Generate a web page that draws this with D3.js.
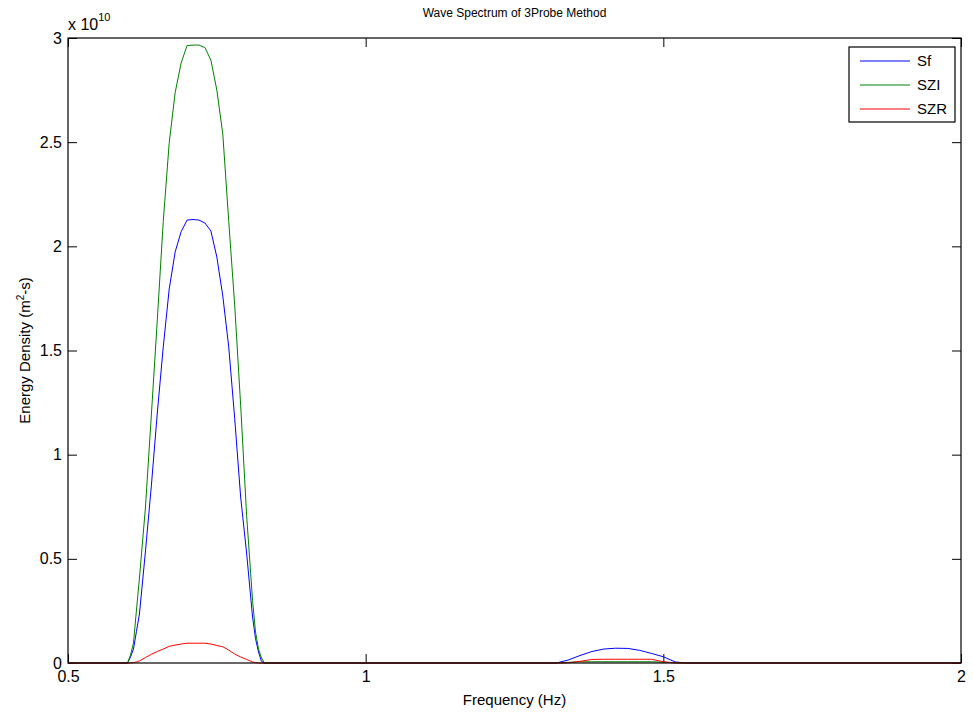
<!DOCTYPE html>
<html>
<head>
<meta charset="utf-8">
<script src="https://cdn.jsdelivr.net/npm/d3@7"></script>
<style>
  body { margin: 0; background: #fff; }
  text { font-family: "Liberation Sans", Arial, sans-serif; fill: #000; }
</style>
</head>
<body>
<div id="chart"></div>
<script>
// frequency (Hz)
const freq = [0.50, 0.60, 0.605, 0.61, 0.615, 0.62, 0.63, 0.64, 0.65, 0.66, 0.67, 0.68, 0.69, 0.70, 0.71,
  0.72, 0.73, 0.74, 0.75, 0.76, 0.77, 0.78, 0.79, 0.80, 0.81, 0.815, 0.82, 0.825, 0.83, 0.84,
  1.32, 1.34, 1.36, 1.38, 1.40, 1.42, 1.44, 1.46, 1.48, 1.50, 1.52, 1.54, 2.00];

// energy density, in units of 1e10
const Sf = [0, 0, 0.029, 0.067, 0.152, 0.235, 0.533, 0.85, 1.20, 1.517, 1.795, 1.973, 2.07, 2.126, 2.129,
  2.126, 2.112, 2.074, 1.949, 1.762, 1.517, 1.174, 0.797, 0.528, 0.221, 0.117, 0.053, 0.008, 0, 0,
  0, 0.014, 0.036, 0.055, 0.067, 0.071, 0.070, 0.061, 0.046, 0.030, 0.005, 0, 0];
const SZI = [0, 0, 0.038, 0.096, 0.254, 0.408, 0.744, 1.19, 1.647, 2.12, 2.497, 2.738, 2.88, 2.964, 2.966,
  2.966, 2.954, 2.894, 2.750, 2.539, 2.12, 1.718, 1.238, 0.71, 0.30, 0.149, 0.067, 0.024, 0, 0,
  0, 0.003, 0.006, 0.006, 0.006, 0.006, 0.006, 0.006, 0.006, 0.004, 0.001, 0, 0];
const SZR = [0, 0, 0, 0.002, 0.005, 0.01, 0.026, 0.042, 0.055, 0.067, 0.080, 0.086, 0.091, 0.095, 0.095,
  0.095, 0.095, 0.091, 0.084, 0.078, 0.062, 0.043, 0.029, 0.017, 0.005, 0.002, 0, 0, 0, 0,
  0, 0.001, 0.008, 0.017, 0.018, 0.018, 0.018, 0.018, 0.018, 0.006, 0, 0, 0];

const seriesNames = ["Sf", "SZI", "SZR"];
const seriesColors = ["#0000ff", "#008000", "#ff0000"];
const xTicks = [0.5, 1, 1.5, 2];
const yTicks = [0, 0.5, 1, 1.5, 2, 2.5, 3];

const W = 973, H = 713;
const margin = { top: 38, right: 12, bottom: 50, left: 68 };
const width = W - margin.left - margin.right;
const height = H - margin.top - margin.bottom;

const svg = d3.select("#chart").append("svg")
  .attr("width", W).attr("height", H);

const g = svg.append("g")
  .attr("transform", `translate(${margin.left},${margin.top})`);

const x = d3.scaleLinear().domain([0.5, 2]).range([0, width]);
const y = d3.scaleLinear().domain([0, 3]).range([height, 0]);

// axes, ticks pointing inward on all four sides
const tickLen = 9;
g.append("g").attr("transform", `translate(0,${height})`)
  .call(d3.axisBottom(x).tickValues(xTicks).tickSizeInner(-tickLen).tickSizeOuter(0).tickPadding(8)
    .tickFormat(d3.format("")));
g.append("g")
  .call(d3.axisTop(x).tickValues(xTicks).tickSizeInner(-tickLen).tickSizeOuter(0).tickFormat(""));
g.append("g")
  .call(d3.axisLeft(y).tickValues(yTicks).tickSizeInner(-tickLen).tickSizeOuter(0).tickPadding(6)
    .tickFormat(d3.format("")));
g.append("g").attr("transform", `translate(${width},0)`)
  .call(d3.axisRight(y).tickValues(yTicks).tickSizeInner(-tickLen).tickSizeOuter(0).tickFormat(""));

g.selectAll(".domain").remove();
g.selectAll(".tick line").attr("stroke", "#000");
g.selectAll(".tick text").attr("font-size", 16).style("font-family", '"Liberation Sans", Arial, sans-serif');

// lines
const line = d3.line().x((d, i) => x(freq[i])).y(d => y(d));
[Sf, SZI, SZR].forEach((s, k) => {
  g.append("path")
    .datum(s)
    .attr("fill", "none")
    .attr("stroke", seriesColors[k])
    .attr("stroke-width", 1)
    .attr("d", line);
});

// frame
g.append("rect")
  .attr("x", 0).attr("y", 0).attr("width", width).attr("height", height)
  .attr("fill", "none").attr("stroke", "#000").attr("stroke-width", 1.2);

// exponent label
const ex = g.append("text").attr("x", 0).attr("y", -8).attr("font-size", 16);
ex.append("tspan").text("x 10");
ex.append("tspan").attr("dy", -9).attr("font-size", 11).text("10");

// title and axis labels
svg.append("text")
  .attr("x", margin.left + width / 2).attr("y", 17)
  .attr("text-anchor", "middle").attr("font-size", 12)
  .text("Wave Spectrum of 3Probe Method");

svg.append("text")
  .attr("x", margin.left + width / 2).attr("y", 705)
  .attr("text-anchor", "middle").attr("font-size", 15)
  .text("Frequency (Hz)");

const yl = svg.append("text")
  .attr("transform", `translate(30,${margin.top + height / 2}) rotate(-90)`)
  .attr("text-anchor", "middle").attr("font-size", 15);
yl.append("tspan").text("Energy Density (m");
yl.append("tspan").attr("dy", -6).attr("font-size", 10).text("2");
yl.append("tspan").attr("dy", 6).text("-s)");

// legend
const legend = g.append("g").attr("transform", `translate(${width - 112},9)`);
legend.append("rect")
  .attr("width", 106).attr("height", 75)
  .attr("fill", "#fff").attr("stroke", "#000").attr("stroke-width", 1.2);
seriesNames.forEach((name, k) => {
  const yy = 14 + k * 24;
  legend.append("line")
    .attr("x1", 11).attr("x2", 61).attr("y1", yy).attr("y2", yy)
    .attr("stroke", seriesColors[k]).attr("stroke-width", 1);
  legend.append("text")
    .attr("x", 68).attr("y", yy + 5).attr("font-size", 15)
    .text(name);
});
</script>
</body>
</html>
